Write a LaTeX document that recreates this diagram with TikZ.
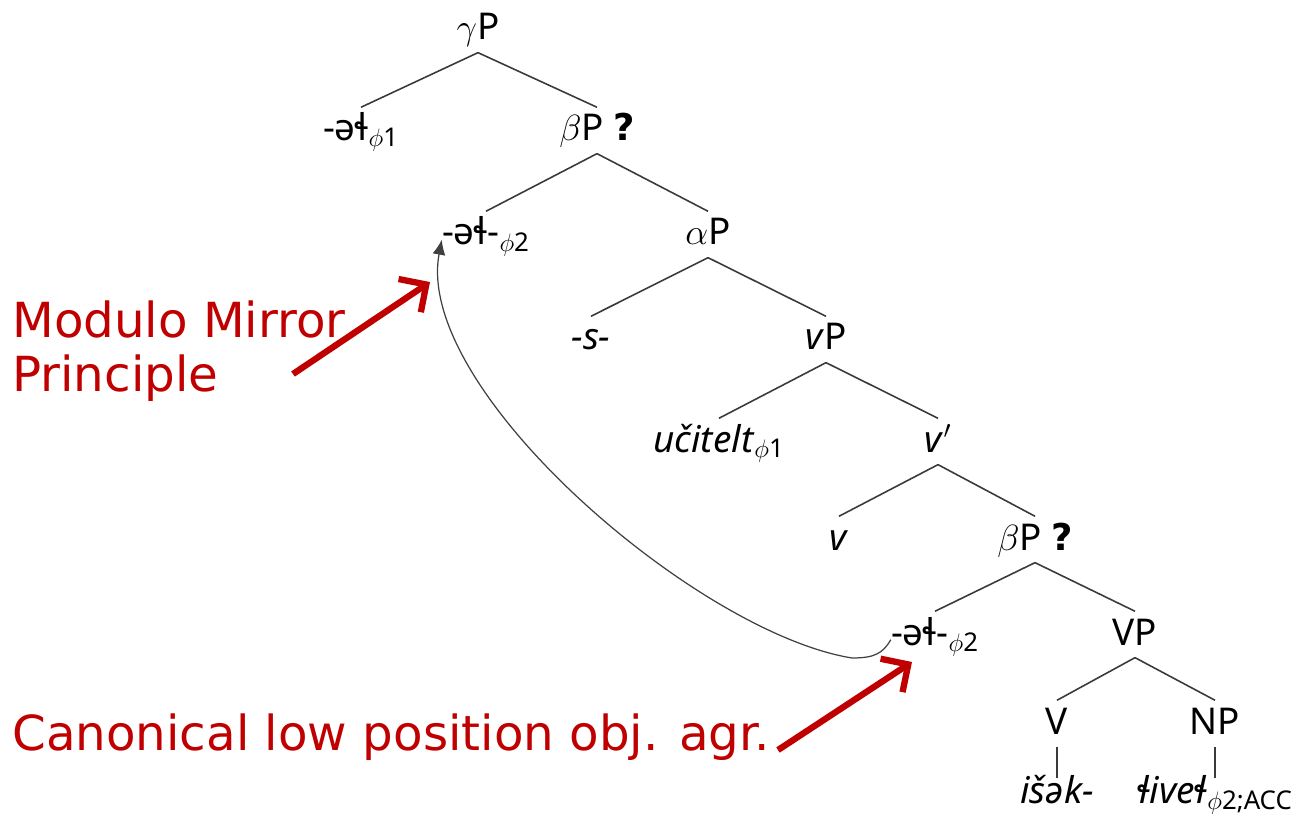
\documentclass[tikz,border=0pt]{standalone}
\usepackage{amsmath}
\usepackage{fontspec}
\usepackage{tikz}
\usetikzlibrary{arrows.meta}
\newfontfamily\treefont{Noto Sans}
\newfontfamily\notefont{DejaVu Sans}
\definecolor{branchgrey}{HTML}{3A3A3A}
\definecolor{alertred}{HTML}{C00000}
\tikzset{
  cat/.style={font=\treefont\fontsize{21}{25}\selectfont,anchor=base,inner sep=0pt,text height=19pt,text depth=7pt},
  branch/.style={draw=branchgrey,line width=0.9pt},
  move/.style={draw=black!75,line width=0.7pt,-{Latex[length=3mm,width=2.6mm]}},
  remark/.style={font=\notefont\fontsize{27.5}{31}\selectfont,text=alertred,align=left,inner sep=0pt},
  pointer/.style={draw=alertred,line width=3.6pt,-{Straight Barb[length=4mm,width=8mm]}},
}
\newcommand{\phisub}[1]{$_{\phi\text{#1}}$}
\newcommand{\query}{{\notefont\bfseries ?}}

\begin{document}
\begin{tikzpicture}[x=0.02cm,y=-0.02cm]
  \useasboundingbox (0,0) rectangle (1299,824);
  % tree
  \node[cat] (gP) at (478,40) {$\gamma$P};
  \node[cat] (agrA) at (361,141) {-əɬ\phisub{1}};
  \node[cat] (bP) at (597,141) {$\beta$P \query};
  \node[cat] (agrB) at (486,245) {-əɬ-\phisub{2}};
  \node[cat] (aP) at (708,245) {$\alpha$P};
  \node[cat] (s) at (591,350) {\textit{-s-}};
  \node[cat] (vP) at (826,350) {\textit{v}P};
  \node[cat] (subj) at (719,452) {\textit{učitelt}\phisub{1}};
  \node[cat] (vbar) at (938,452) {\textit{v}$'$};
  \node[cat] (v) at (839,550) {\textit{v}};
  \node[cat] (bPlow) at (1035,550) {$\beta$P \query};
  \node[cat] (agrC) at (935,645) {-əɬ-\phisub{2}};
  \node[cat] (VP) at (1135,645) {VP};
  \node[cat] (V) at (1057,734) {V};
  \node[cat] (NP) at (1215,734) {NP};
  \node[cat] (verb) at (1057,803) {\textit{išək-}};
  \node[cat] (obj) at (1215,803) {\textit{ɬiveɬ}\phisub{2;ACC}};
  \foreach \p/\c in {gP/agrA,gP/bP,bP/agrB,bP/aP,aP/s,aP/vP,vP/subj,vP/vbar,vbar/v,vbar/bPlow,bPlow/agrC,bPlow/VP,VP/V,VP/NP}
    \draw[branch] (\p.south) -- (\c.north);
  \draw[branch,shorten >=-5pt] (V.south) -- (verb.north);
  \draw[branch,shorten >=-5pt] (NP.south) -- (obj.north);
  % movement
  \coordinate (dip) at (852,658);
  \draw[move] ([yshift=-3pt]agrC.west) .. controls +(-8,14) and +(22,0) .. (dip) .. controls +(-155,-25) and +(-28,150) .. ([yshift=-3pt]agrB.west);
  % remarks
  \node[remark,anchor=north west] (mirror) at (12,300) {Modulo Mirror\\Principle};
  \node[remark,anchor=base west] (canon) at (12,750) {Canonical low position obj. agr.};
  \coordinate (mirrortail) at (293,374);
  \coordinate (mirrortip) at (430,282);
  \coordinate (canontail) at (778,750);
  \coordinate (canontip) at (912,662);
  \draw[pointer] (mirrortail) -- (mirrortip);
  \draw[pointer] (canontail) -- (canontip);
\end{tikzpicture}
\end{document}
